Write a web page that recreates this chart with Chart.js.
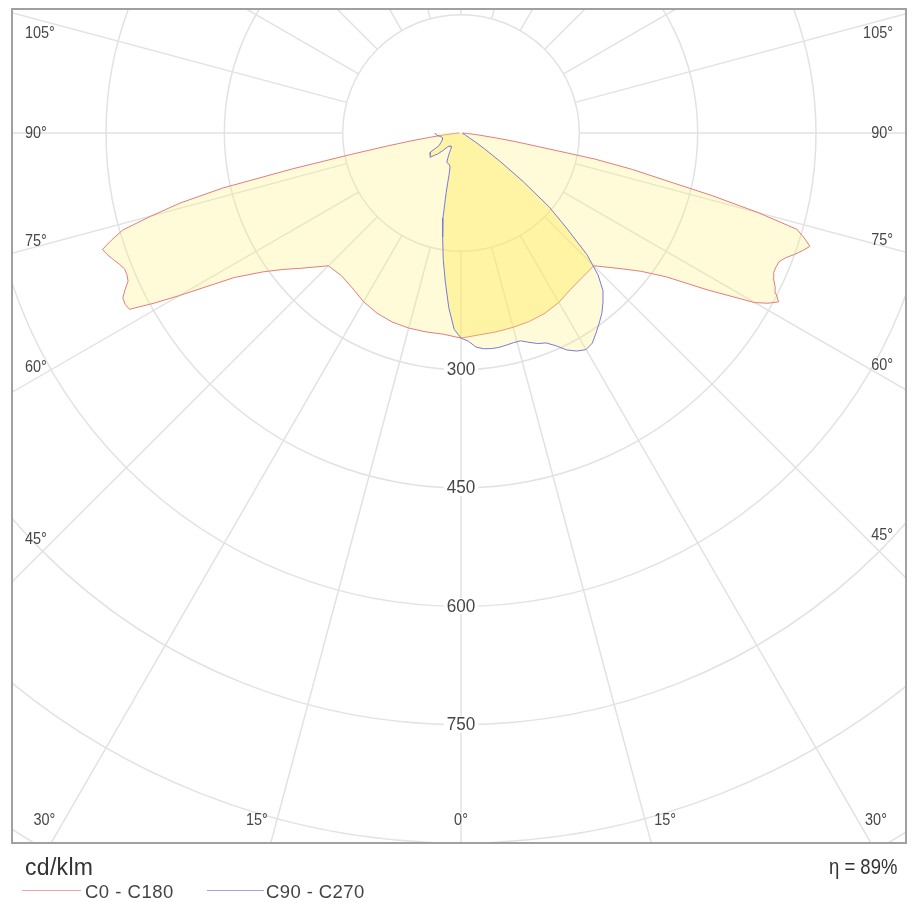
<!DOCTYPE html>
<html><head><meta charset="utf-8">
<script src="https://cdn.jsdelivr.net/npm/chart.js@4.4.1/dist/chart.umd.min.js"></script>
<style>
html,body{margin:0;padding:0;background:#fff;}
#wrap{position:relative;width:912px;height:902px;overflow:hidden;}
canvas{position:absolute;left:0;top:0;}
.t{position:absolute;font-family:"Liberation Sans",Arial,sans-serif;color:#333;white-space:nowrap;line-height:1;}
.ln{position:absolute;height:0;border-top:1.5px solid;}
</style></head><body>
<div id="wrap">
<canvas id="c" width="912" height="902"></canvas>
<div class="t" style="left:25px;top:856px;font-size:23px;letter-spacing:0.3px;">cd/klm</div>
<div class="ln" style="left:22px;top:890px;width:59px;border-color:#f0a3a3"></div>
<div class="t" style="left:85px;top:883px;font-size:18.5px;letter-spacing:0.5px;color:#444">C0 - C180</div>
<div class="ln" style="left:207px;top:890px;width:57px;border-color:#a3a3e0"></div>
<div class="t" style="left:266px;top:883px;font-size:18.5px;letter-spacing:0.4px;color:#444">C90 - C270</div>
<div class="t" style="right:15px;top:856px;font-size:22px;transform:scaleX(0.84);transform-origin:right center;">&eta; = 89%</div>
</div>
<script>
// ---- data (cd/klm) ----
const gammaRed = [0,5,10,15,20,25,30,35,40,45,50,52.5,55,57.5,60,61,62,63,64,65,66,67,68,69,70,71,72,73,74,75,76,77,78,79,80,81,82,84,86,88,90];
const c0   = [260,257,256,255,254,252,248,242,239,238,268,288,318,370,430,445,456,448,443,437,434,434,435,441,450,458,465,455,443,390,328,264,222,172,101,70,45,20,8,4,2];
const c180 = [260,256,256,256,255,252,247,240,236,238,267,284,307,341,412,445,476,478,477,470,462,460,460,464,469,474,478,463,446,407,367,310,218,141,95,65,42,20,8,4,2];

const gammaBlue = [0,2,4,6,8,10,12,14,16,18,20,22,24,26,28,30,32,34,36,38,40,42,44,46,48,50,52,54,56,58,60,65,70,75,80,85,90];
const c90  = [260,264,272,275,276,276,275,274,274,279,284,287,295,306,313,317,314,306,298,290,280,269,250,222,180,146,100,62,36,22,12,6,4,3,3,2,2];
const c270 = [260,249,222,190,162,134,110,78,55,45,43,42,42,41,35,30,25,22,21,21,22,22,25,32,40,44,50,48,47,46,32,28,25,24,26,31,33];

const rings = [150,300,450,600,750,900,1050,1200];
const ringLabels = [300,450,600,750];
const angleLabelsSide = [105,90,75,60,45];
const angleLabelsBottom = [30,15,0];

function polarPoints(g, left, right){
  const out = [];
  for (let i = g.length-1; i >= 0; i--){ const a = g[i]*Math.PI/180; out.push({x:-left[i]*Math.sin(a), y:-left[i]*Math.cos(a)}); }
  for (let i = 0; i < g.length; i++){ const a = g[i]*Math.PI/180; out.push({x:right[i]*Math.sin(a), y:-right[i]*Math.cos(a)}); }
  return out;
}

const GRID = '#e2e2e2';
function tracePath(ctx, pts){
  ctx.beginPath();
  pts.forEach((p,i)=> i ? ctx.lineTo(p.x,p.y) : ctx.moveTo(p.x,p.y));
  ctx.closePath();
}
const gridPlugin = {
  id:'polarGrid',
  beforeDatasetsDraw(chart){
    const {ctx, chartArea:a, scales:{x,y}} = chart;
    const cx = x.getPixelForValue(0), cy = y.getPixelForValue(0);
    const rp = v => x.getPixelForValue(v) - cx;
    ctx.save();
    ctx.beginPath(); ctx.rect(a.left,a.top,a.right-a.left,a.bottom-a.top); ctx.clip();
    ctx.strokeStyle = GRID; ctx.lineWidth = 1.5;
    for (const v of rings){ ctx.beginPath(); ctx.arc(cx,cy,rp(v),0,Math.PI*2); ctx.stroke(); }
    const r0 = rp(rings[0]), r1 = rp(rings[rings.length-1]);
    for (let g = 0; g < 360; g += 15){
      const t = g*Math.PI/180, dx = Math.sin(t), dy = Math.cos(t);
      ctx.beginPath(); ctx.moveTo(cx+dx*r0, cy+dy*r0); ctx.lineTo(cx+dx*r1, cy+dy*r1); ctx.stroke();
    }
    // stronger tint where both distributions overlap
    const red = chart.getDatasetMeta(1).data, blue = chart.getDatasetMeta(0).data;
    tracePath(ctx, red); ctx.clip();
    tracePath(ctx, blue); ctx.fillStyle = 'rgba(255,228,40,0.22)'; ctx.fill();
    ctx.restore();
  }
};

function narrowText(ctx, txt, x, y, align, sx){
  const w = ctx.measureText(txt).width*sx;
  let left = x;
  if (align === 'center') left = x - w/2; else if (align === 'right') left = x - w;
  ctx.save(); ctx.translate(left, y); ctx.scale(sx,1); ctx.textAlign='left'; ctx.fillText(txt,0,0); ctx.restore();
  return {left, w};
}

const labelPlugin = {
  id:'polarLabels',
  afterDatasetsDraw(chart){
    const {ctx, chartArea:a, scales:{x,y}} = chart;
    const cx = x.getPixelForValue(0), cy = y.getPixelForValue(0);
    const rp = v => x.getPixelForValue(v) - cx;
    ctx.save();
    ctx.textBaseline = 'middle';
    // radial labels
    ctx.font = '19px "Liberation Sans", Arial, sans-serif';
    for (const v of ringLabels){
      const py = cy + rp(v);
      const w = ctx.measureText(String(v)).width*0.9;
      ctx.fillStyle = '#fff'; ctx.fillRect(cx - w/2 - 3, py - 8, w + 6, 16);
      ctx.fillStyle = '#474747';
      narrowText(ctx, String(v), cx, py, 'center', 0.9);
    }
    // angle labels
    ctx.font = '17px "Liberation Sans", Arial, sans-serif';
    ctx.fillStyle = '#474747';
    for (const g of angleLabelsSide){
      const t = g*Math.PI/180;
      const xl = a.left + 43, xr = a.right - 43;
      let yl = cy + (cx - xl)*Math.cos(t)/Math.sin(t);
      let yr = cy + (xr - cx)*Math.cos(t)/Math.sin(t);
      yl = Math.max(yl, a.top + 24); yr = Math.max(yr, a.top + 24);
      narrowText(ctx, g+'°', a.left + 13, yl, 'left', 0.85);
      narrowText(ctx, g+'°', a.right - 13, yr, 'right', 0.85);
    }
    for (const g of angleLabelsBottom){
      const t = g*Math.PI/180;
      const yb = a.bottom - 23;
      const off = (yb - cy)*Math.tan(t);
      if (g === 0){ narrowText(ctx, '0°', cx, yb, 'center', 0.85); continue; }
      const xl = Math.max(cx - off - 20, a.left + 30);
      const xr = Math.min(cx + off + 20, a.right - 30);
      narrowText(ctx, g+'°', xl, yb, 'center', 0.85);
      narrowText(ctx, g+'°', xr, yb, 'center', 0.85);
    }
    // frame
    ctx.strokeStyle = '#a0a0a0'; ctx.lineWidth = 2;
    ctx.strokeRect(a.left, a.top, a.right-a.left, a.bottom-a.top);
    ctx.restore();
  }
};

new Chart(document.getElementById('c'), {
  type:'scatter',
  data:{
    datasets:[
      {label:'C90 - C270', data:polarPoints(gammaBlue, c270, c90), showLine:true, fill:'shape',
       borderColor:'#7a7ad6', backgroundColor:'rgba(255,236,110,0.27)', borderWidth:1, pointRadius:0, tension:0},
      {label:'C0 - C180', data:polarPoints(gammaRed, c180, c0), showLine:true, fill:'shape',
       borderColor:'#e37c7c', backgroundColor:'rgba(255,236,110,0.27)', borderWidth:1, pointRadius:0, tension:0}
    ]
  },
  options:{
    responsive:false, animation:false, events:[],
    layout:{padding:{left:12,right:6,top:9,bottom:59}},
    plugins:{legend:{display:false}, tooltip:{enabled:false}},
    scales:{
      x:{type:'linear', min:-569.2, max:564.1, display:false},
      y:{type:'linear', min:-900, max:157.2, display:false}
    }
  },
  plugins:[gridPlugin, labelPlugin]
});
</script>
</body></html>
